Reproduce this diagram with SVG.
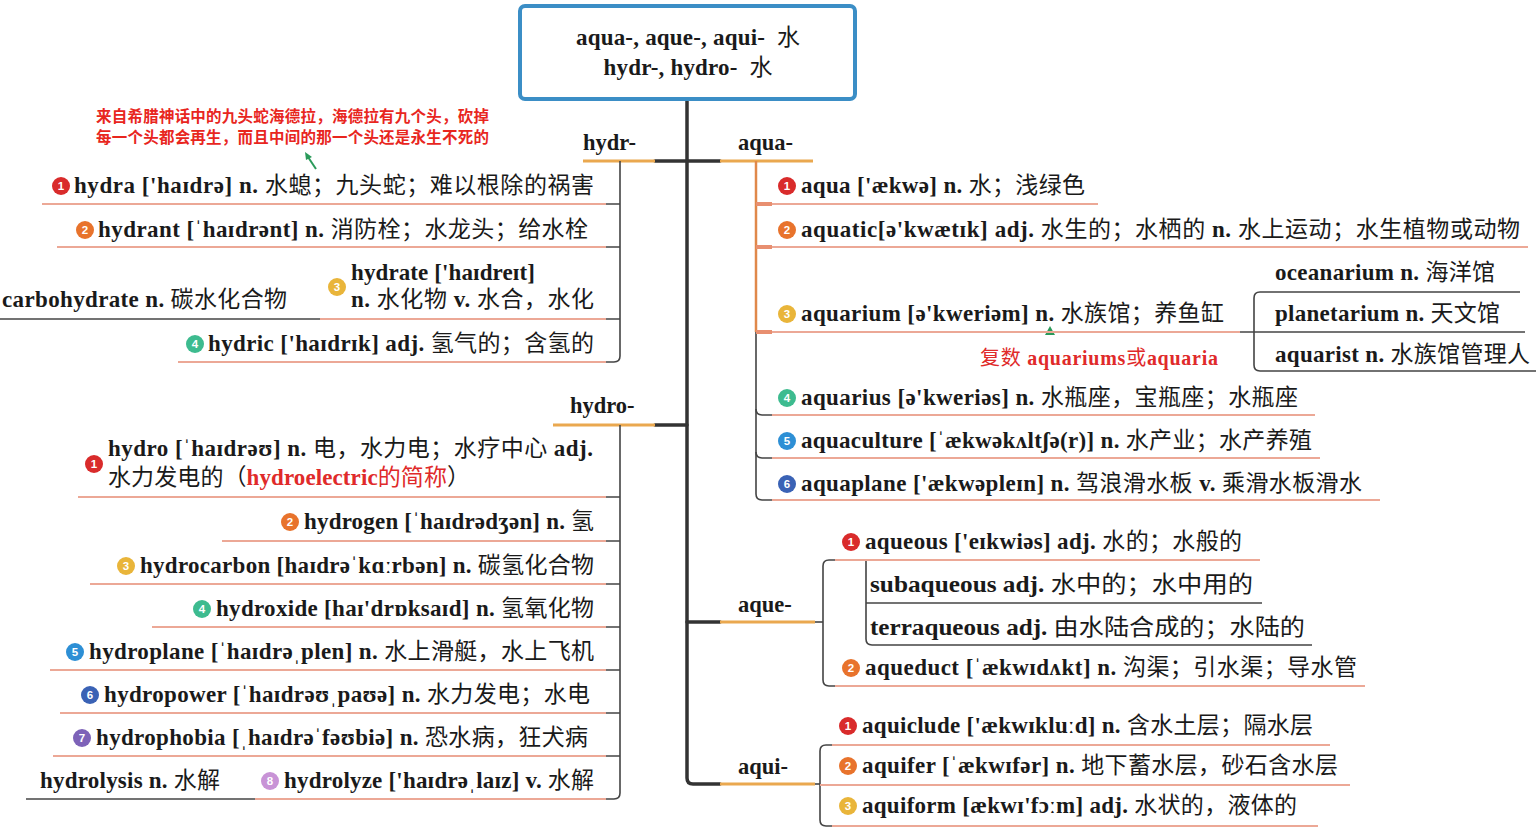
<svg xmlns="http://www.w3.org/2000/svg" width="1536" height="829" viewBox="0 0 1536 829">
<style>
.e{font-family:"Liberation Serif","Noto Sans CJK SC",serif;font-size:23px;fill:#1a1a1a}
.b{font-weight:bold}
.lab{font-family:"Liberation Serif",serif;font-size:22.5px;font-weight:bold;fill:#1a1a1a}
.red{fill:#e02a2a}
.note{font-family:"Noto Sans CJK SC",sans-serif;font-size:15.5px;font-weight:bold;fill:#e8261e}
.ul{stroke:#eca896;stroke-width:2;fill:none}
.dk{stroke:#444;stroke-width:1.6;fill:none}
.tr{stroke:#333;stroke-width:3.5;fill:none;stroke-linecap:round}
.or{stroke:#eaa84f;stroke-width:3;fill:none}
.bn{font-family:"Liberation Sans",sans-serif;font-size:11.5px;font-weight:bold;fill:#fff;text-anchor:middle}
.c1{fill:#d92b2b}.c2{fill:#e8732c}.c3{fill:#e9b53a}.c4{fill:#3dbb8f}.c5{fill:#2d8fd5}.c6{fill:#3a62b5}.c7{fill:#7d62b8}.c8{fill:#c893d6}
</style>
<rect width="1536" height="829" fill="#fff"/>

<g id="connectors">
  <path class="tr" d="M687 100 V778 Q687 784 693 784 H720"/>
  <path class="tr" d="M655 161 H720"/>
  <path class="tr" d="M655 425 H687"/>
  <path class="tr" d="M687 622 H720"/>
  <path class="or" d="M583 161 H655"/>
  <path class="or" d="M720 161 H813"/>
  <path class="or" d="M553 425 H655"/>
  <path class="or" d="M720 622 H815"/>
  <path class="or" d="M720 784 H815"/>
  <path class="dk" d="M620 161 V356 Q620 362 614 362 H606"/>
  <path class="dk" d="M606 204 H620 M606 247 H620 M606 319 H620"/>
  <path class="dk" d="M620 425 V793 Q620 799 614 799 H606"/>
  <path class="dk" d="M606 497 H620 M606 541 H620 M606 584 H620 M606 627 H620 M606 670 H620 M606 713 H620 M606 756 H620"/>
  <path class="dk" d="M756 161 V494 Q756 500 762 500 H772"/>
  <path d="M756 161 V332" stroke="#e0884a" stroke-width="2.5" fill="none"/>
  <path d="M756 204 H772 M756 247 H772 M756 332 H772" stroke="#e88f70" stroke-width="4" fill="none"/>
  <path class="dk" d="M756 409 Q756 415 762 415 H772 M756 452 Q756 458 762 458 H772"/>
  <path class="dk" d="M1520 292 H1260 Q1254 292 1254 298 V365 Q1254 371 1260 371 H1536"/>
  <path class="dk" d="M1240 332 H1525"/>
  <path class="dk" d="M815 622 H823"/>
  <path class="dk" d="M835 560 H829 Q823 560 823 566 V680 Q823 686 829 686 H835"/>
  <path class="dk" d="M866 560 V639 Q866 645 872 645 H1312"/>
  <path class="dk" d="M866 603 H1262"/>
  <path class="dk" d="M815 784 H820"/>
  <path class="dk" d="M832 745 H826 Q820 745 820 751 V820 Q820 826 826 826 H832"/>
  <path d="M316 169 L308 157" stroke="#2a9a5a" stroke-width="2" fill="none"/>
  <path d="M305 152 L312 157 L306 160 Z" fill="#2a9a5a"/>
  <path d="M1045 335 L1050 326 L1055 335 Z" fill="#2a9a5a"/>
</g>

<g id="root">
  <rect x="520" y="6" width="335" height="93" rx="5" fill="#fff" stroke="#3b8ec6" stroke-width="4"/>
  <text class="e" x="688" y="45" text-anchor="middle" textLength="224"><tspan class="b">aqua-, aque-, aqui-&#160;&#160;</tspan>水</text>
  <text class="e" x="688" y="75" text-anchor="middle" textLength="169"><tspan class="b">hydr-, hydro-&#160;&#160;</tspan>水</text>
</g>

<g id="b-hydr"><text class="lab" x="583" y="150">hydr-</text></g>
<g id="b-aqua"><text class="lab" x="738" y="150">aqua-</text></g>
<g id="b-hydro"><text class="lab" x="570" y="413">hydro-</text></g>
<g id="b-aque"><text class="lab" x="738" y="612">aque-</text></g>
<g id="b-aqui"><text class="lab" x="738" y="774">aqui-</text></g>

<g id="note-hydra">
  <text class="note" x="96" y="122" textLength="393">来自希腊神话中的九头蛇海德拉，海德拉有九个头，砍掉</text>
  <text class="note" x="96" y="143" textLength="393">每一个头都会再生，而且中间的那一个头还是永生不死的</text>
</g>

<g id="hydra"><circle class="c1" cx="61" cy="186" r="9"/><text class="bn" x="61" y="190">1</text>
<text class="e" x="74" y="193" textLength="520"><tspan class="b">hydra ['haɪdrə] n. </tspan>水螅；九头蛇；难以根除的祸害</text><path class="ul" d="M42 204H606"/></g>
<g id="hydrant"><circle class="c2" cx="85" cy="230" r="9"/><text class="bn" x="85" y="234">2</text>
<text class="e" x="98" y="237" textLength="490"><tspan class="b">hydrant [ˈhaɪdrənt] n. </tspan>消防栓；水龙头；给水栓</text><path class="ul" d="M57 247H606"/></g>
<g id="hydrate"><circle class="c3" cx="337" cy="287" r="9"/><text class="bn" x="337" y="291">3</text>
<text class="e" x="351" y="280" textLength="184"><tspan class="b">hydrate ['haɪdreɪt]</tspan></text>
<text class="e" x="351" y="307" textLength="243"><tspan class="b">n. </tspan>水化物<tspan class="b"> v. </tspan>水合，水化</text><path class="ul" d="M320 319H606"/></g>
<g id="carbohydrate"><text class="e" x="2" y="307" textLength="285"><tspan class="b">carbohydrate n. </tspan>碳水化合物</text><path class="dk" d="M0 319H320"/></g>
<g id="hydric"><circle class="c4" cx="195" cy="344" r="9"/><text class="bn" x="195" y="348">4</text>
<text class="e" x="208" y="351" textLength="386"><tspan class="b">hydric ['haɪdrɪk] adj. </tspan>氢气的；含氢的</text><path class="ul" d="M178 362H606"/></g>

<g id="hydro"><circle class="c1" cx="94" cy="464" r="9"/><text class="bn" x="94" y="468">1</text>
<text class="e" x="108" y="456" textLength="485"><tspan class="b">hydro [ˈhaɪdrəʊ] n. </tspan>电，水力电；水疗中心<tspan class="b"> adj.</tspan></text>
<text class="e" x="108" y="485" textLength="362">水力发电的（<tspan class="b red">hydroelectric</tspan><tspan class="red">的简称</tspan>）</text><path class="ul" d="M78 497H606"/></g>
<g id="hydrogen"><circle class="c2" cx="290" cy="522" r="9"/><text class="bn" x="290" y="526">2</text>
<text class="e" x="304" y="529" textLength="290"><tspan class="b">hydrogen [ˈhaɪdrədʒən] n. </tspan>氢</text><path class="ul" d="M222 541H606"/></g>
<g id="hydrocarbon"><circle class="c3" cx="126" cy="566" r="9"/><text class="bn" x="126" y="570">3</text>
<text class="e" x="140" y="573" textLength="454"><tspan class="b">hydrocarbon [haɪdrəˈkɑːrbən] n. </tspan>碳氢化合物</text><path class="ul" d="M90 584H606"/></g>
<g id="hydroxide"><circle class="c4" cx="202" cy="609" r="9"/><text class="bn" x="202" y="613">4</text>
<text class="e" x="216" y="616" textLength="378"><tspan class="b">hydroxide [haɪ'drɒksaɪd] n. </tspan>氢氧化物</text><path class="ul" d="M152 627H606"/></g>
<g id="hydroplane"><circle class="c5" cx="75" cy="652" r="9"/><text class="bn" x="75" y="656">5</text>
<text class="e" x="89" y="659" textLength="505"><tspan class="b">hydroplane [ˈhaɪdrəˌplen] n. </tspan>水上滑艇，水上飞机</text><path class="ul" d="M50 670H606"/></g>
<g id="hydropower"><circle class="c6" cx="90" cy="695" r="9"/><text class="bn" x="90" y="699">6</text>
<text class="e" x="104" y="702" textLength="486"><tspan class="b">hydropower [ˈhaɪdrəʊˌpaʊə] n. </tspan>水力发电；水电</text><path class="ul" d="M60 713H606"/></g>
<g id="hydrophobia"><circle class="c7" cx="82" cy="738" r="9"/><text class="bn" x="82" y="742">7</text>
<text class="e" x="96" y="745" textLength="492"><tspan class="b">hydrophobia [ˌhaɪdrəˈfəʊbiə] n. </tspan>恐水病，狂犬病</text><path class="ul" d="M53 756H606"/></g>
<g id="hydrolyze"><circle class="c8" cx="270" cy="781" r="9"/><text class="bn" x="270" y="785">8</text>
<text class="e" x="284" y="788" textLength="310"><tspan class="b">hydrolyze ['haɪdrəˌlaɪz] v. </tspan>水解</text><path class="ul" d="M255 799H606"/></g>
<g id="hydrolysis"><text class="e" x="40" y="788" textLength="180"><tspan class="b">hydrolysis n. </tspan>水解</text><path class="dk" d="M26 799H255"/></g>

<g id="aqua"><circle class="c1" cx="787" cy="186" r="9"/><text class="bn" x="787" y="190">1</text>
<text class="e" x="801" y="193" textLength="284"><tspan class="b">aqua ['ækwə] n. </tspan>水；浅绿色</text><path class="ul" d="M772 204H1098"/></g>
<g id="aquatic"><circle class="c2" cx="787" cy="230" r="9"/><text class="bn" x="787" y="234">2</text>
<text class="e" x="801" y="237" textLength="719"><tspan class="b">aquatic[ə'kwætɪk] adj. </tspan>水生的；水栖的<tspan class="b"> n. </tspan>水上运动；水生植物或动物</text><path class="ul" d="M772 247H1528"/></g>
<g id="aquarium"><circle class="c3" cx="787" cy="314" r="9"/><text class="bn" x="787" y="318">3</text>
<text class="e" x="801" y="321" textLength="423"><tspan class="b">aquarium [ə'kweriəm] n. </tspan>水族馆；养鱼缸</text><path class="ul" d="M772 332H1240"/>
<text class="e red" x="980" y="365" style="font-size:20px" textLength="238">复数 <tspan class="b">aquariums</tspan>或<tspan class="b">aquaria</tspan></text></g>
<g id="oceanarium"><text class="e" x="1275" y="280" textLength="220"><tspan class="b">oceanarium n. </tspan>海洋馆</text></g>
<g id="planetarium"><text class="e" x="1275" y="321" textLength="225"><tspan class="b">planetarium n. </tspan>天文馆</text></g>
<g id="aquarist"><text class="e" x="1275" y="362" textLength="255"><tspan class="b">aquarist n. </tspan>水族馆管理人</text></g>
<g id="aquarius"><circle class="c4" cx="787" cy="398" r="9"/><text class="bn" x="787" y="402">4</text>
<text class="e" x="801" y="405" textLength="497"><tspan class="b">aquarius [ə'kweriəs] n. </tspan>水瓶座，宝瓶座；水瓶座</text><path class="ul" d="M772 415H1315"/></g>
<g id="aquaculture"><circle class="c5" cx="787" cy="441" r="9"/><text class="bn" x="787" y="445">5</text>
<text class="e" x="801" y="448" textLength="511"><tspan class="b">aquaculture [ˈækwəkʌltʃə(r)] n. </tspan>水产业；水产养殖</text><path class="ul" d="M772 458H1320"/></g>
<g id="aquaplane"><circle class="c6" cx="787" cy="484" r="9"/><text class="bn" x="787" y="488">6</text>
<text class="e" x="801" y="491" textLength="561"><tspan class="b">aquaplane ['ækwəpleɪn] n. </tspan>驾浪滑水板<tspan class="b"> v. </tspan>乘滑水板滑水</text><path class="ul" d="M772 500H1380"/></g>

<g id="aqueous"><circle class="c1" cx="851" cy="542" r="9"/><text class="bn" x="851" y="546">1</text>
<text class="e" x="865" y="549" textLength="377"><tspan class="b">aqueous ['eɪkwiəs] adj. </tspan>水的；水般的</text><path class="ul" d="M835 560H1260"/></g>
<g id="subaqueous"><text class="e" x="870" y="592" textLength="383" lengthAdjust="spacingAndGlyphs"><tspan class="b">subaqueous adj. </tspan>水中的；水中用的</text></g>
<g id="terraqueous"><text class="e" x="870" y="635" textLength="435" lengthAdjust="spacingAndGlyphs"><tspan class="b">terraqueous adj. </tspan>由水陆合成的；水陆的</text></g>
<g id="aqueduct"><circle class="c2" cx="851" cy="668" r="9"/><text class="bn" x="851" y="672">2</text>
<text class="e" x="865" y="675" textLength="492"><tspan class="b">aqueduct [ˈækwɪdʌkt] n. </tspan>沟渠；引水渠；导水管</text><path class="ul" d="M835 686H1365"/></g>

<g id="aquiclude"><circle class="c1" cx="848" cy="726" r="9"/><text class="bn" x="848" y="730">1</text>
<text class="e" x="862" y="733" textLength="451"><tspan class="b">aquiclude ['ækwɪkluːd] n. </tspan>含水土层；隔水层</text><path class="ul" d="M832 745H1330"/></g>
<g id="aquifer"><circle class="c2" cx="848" cy="766" r="9"/><text class="bn" x="848" y="770">2</text>
<text class="e" x="862" y="773" textLength="476"><tspan class="b">aquifer [ˈækwɪfər] n. </tspan>地下蓄水层，砂石含水层</text><path class="ul" d="M820 785H1350"/></g>
<g id="aquiform"><circle class="c3" cx="848" cy="806" r="9"/><text class="bn" x="848" y="810">3</text>
<text class="e" x="862" y="813" textLength="435"><tspan class="b">aquiform [ækwɪ'fɔːm] adj. </tspan>水状的，液体的</text><path class="ul" d="M832 826H1318"/></g>
</svg>
